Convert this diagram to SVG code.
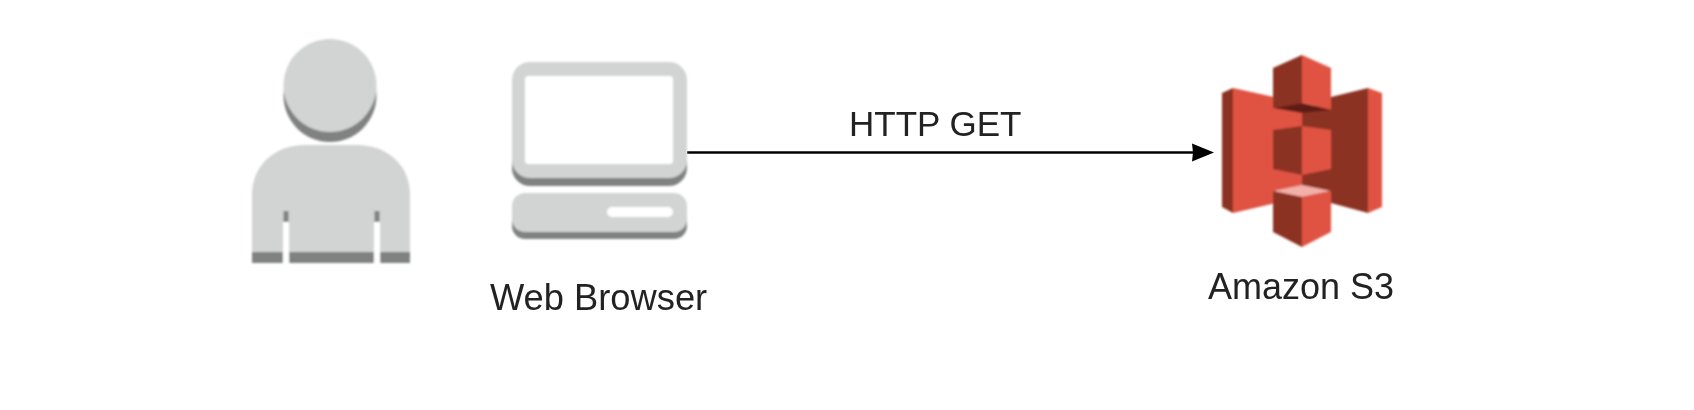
<svg xmlns="http://www.w3.org/2000/svg" width="1694" height="410" viewBox="0 0 1694 410">
  <style>
    .lt { fill: #d2d3d3; }
    .dk { fill: #808282; }
    .wh { fill: #ffffff; }
    .red { fill: #e05243; }
    .brn { fill: #8c3123; }
    .drk { fill: #5e1f18; }
    .pnk { fill: #f2b0a9; }
    .soft { filter: url(#soft); }
    text { font-family: "Liberation Sans", Arial, sans-serif; font-size: 36px; fill: #222222; filter: url(#softText); }
  </style>
  <defs>
    <filter id="soft" x="-5%" y="-5%" width="110%" height="110%"><feGaussianBlur stdDeviation="0.8"/></filter>
    <filter id="softText" x="-5%" y="-10%" width="110%" height="120%"><feGaussianBlur stdDeviation="0.6"/></filter>
    <marker id="arrow" markerUnits="userSpaceOnUse" markerWidth="24" markerHeight="20" refX="2" refY="10" orient="auto">
      <path d="M0 1 L22 10 L0 19 L1 10 Z" fill="#000000"/>
    </marker>
  </defs>
  <rect width="1694" height="410" fill="#ffffff"/>
  <g id="connectors">
    <path id="edge-http-get" d="M687 152.5 H1194" fill="none" stroke="#000000" stroke-width="2.4" marker-end="url(#arrow)"/>
    <text id="edge-label" x="849" y="136" style="font-size:35px">HTTP GET</text>
  </g>
  <g id="node-user">
    <g class="soft">
      <circle class="dk" cx="330" cy="95.500" r="46.5"/>
      <circle class="lt" cx="330" cy="85.500" r="46.5"/>
      <path class="lt" d="M252 252 V195 C252 165 275 145 305 145 H357 C387 145 410 165 410 195 V252 Z"/>
      <rect class="dk" x="252" y="252" width="158" height="11"/>
      <rect class="wh" x="283" y="222" width="6" height="42"/>
      <rect class="wh" x="374" y="222" width="6" height="42"/>
      <rect class="dk" x="283.500" y="211" width="5" height="11"/>
      <rect class="dk" x="374.500" y="211" width="5" height="11"/>
    </g>
  </g>
  <g id="node-browser">
    <g class="soft">
      <rect class="dk" x="512" y="70" width="175" height="116" rx="18"/>
      <rect class="lt" x="512" y="62" width="175" height="116" rx="18"/>
      <rect class="wh" x="525" y="76" width="148" height="88" rx="3"/>
      <rect class="dk" x="512" y="200" width="175" height="39" rx="13"/>
      <rect class="lt" x="512" y="193" width="175" height="39" rx="13"/>
      <rect class="wh" x="607" y="207" width="66" height="10" rx="5"/>
    </g>
    <text x="490" y="310" style="font-size:36.300px">Web Browser</text>
  </g>
  <g id="node-s3">
    <g class="soft">
      <polygon class="red" points="1233,88 1302,103 1302,197 1233,213"/>
      <polygon class="brn" points="1222,93 1233,88 1233,213 1222,207"/>
      <polygon class="brn" points="1331,97 1368,88 1368,213 1331,203 1302,197 1302,113"/>
      <polygon class="red" points="1368,88 1382,93 1382,207 1368,213"/>
      <polygon class="brn" points="1273,68 1302,55 1302,103 1273,108"/>
      <polygon class="red" points="1302,55 1331,68 1331,110 1302,103"/>
      <polygon class="drk" points="1273,108 1302,103 1331,110 1302,113"/>
      <polygon class="brn" points="1273,130 1302,126 1302,175 1273,169"/>
      <polygon class="red" points="1302,126 1331,130 1331,169 1302,175"/>
      <polygon class="pnk" points="1273,191 1302,185 1331,191 1302,197"/>
      <polygon class="brn" points="1273,191 1302,197 1302,247 1273,232"/>
      <polygon class="red" points="1302,197 1331,191 1331,232 1302,247"/>
    </g>
    <text x="1208" y="299">Amazon S3</text>
  </g>
</svg>
